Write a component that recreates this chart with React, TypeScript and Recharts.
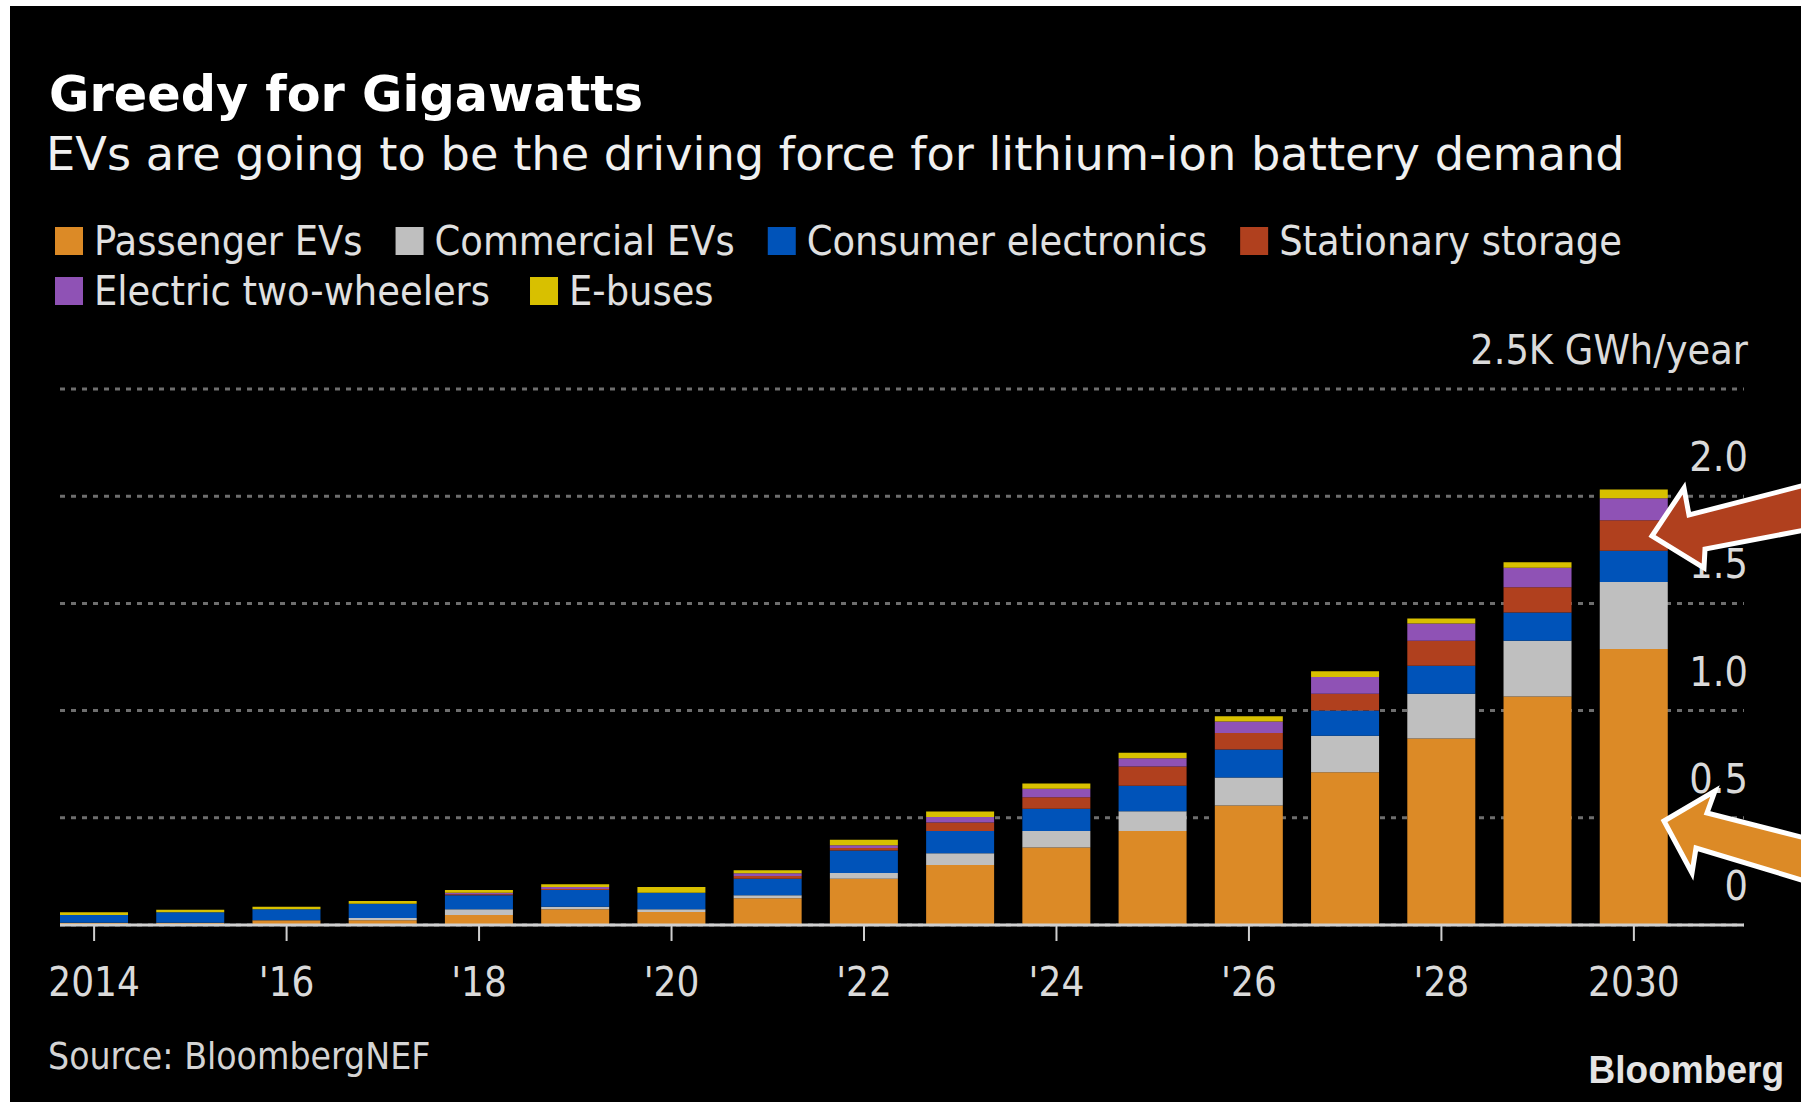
import React from 'react';
import { BarChart, Bar, XAxis, YAxis, CartesianGrid, ReferenceLine } from 'recharts';

// Lithium-ion battery demand, thousand GWh/year (BloombergNEF)
const years = [
  '2014', '2015', '2016', '2017', '2018', '2019', '2020', '2021', '2022',
  '2023', '2024', '2025', '2026', '2027', '2028', '2029', '2030',
];
const passengerEVs = [0.010, 0.010, 0.022, 0.022, 0.047, 0.073, 0.061, 0.125, 0.216, 0.280, 0.361, 0.439, 0.557, 0.713, 0.870, 1.066, 1.287];
const commercialEVs = [0, 0, 0, 0.011, 0.026, 0.012, 0.012, 0.014, 0.027, 0.055, 0.078, 0.092, 0.131, 0.170, 0.209, 0.260, 0.313];
const consumerElectronics = [0.037, 0.049, 0.051, 0.066, 0.066, 0.078, 0.078, 0.077, 0.104, 0.104, 0.103, 0.118, 0.130, 0.118, 0.130, 0.131, 0.145];
const stationaryStorage = [0, 0, 0, 0, 0.004, 0.005, 0, 0.013, 0.012, 0.039, 0.054, 0.090, 0.078, 0.078, 0.117, 0.118, 0.143];
const twoWheelers = [0, 0, 0, 0, 0.008, 0.009, 0, 0.012, 0.013, 0.026, 0.039, 0.039, 0.053, 0.078, 0.080, 0.091, 0.103];
const eBuses = [0.012, 0.012, 0.012, 0.013, 0.012, 0.013, 0.026, 0.014, 0.026, 0.025, 0.025, 0.025, 0.025, 0.026, 0.024, 0.026, 0.040];

const seriesNames = [
  'Passenger EVs',
  'Commercial EVs',
  'Consumer electronics',
  'Stationary storage',
  'Electric two-wheelers',
  'E-buses',
];

const yTicks = [0, 0.5, 1, 1.5, 2, 2.5];
const yTickLabels = ['0', '0.5', '1.0', '1.5', '2.0', '2.5K GWh/year'];
const xTickYears = ['2014', '2016', '2018', '2020', '2022', '2024', '2026', '2028', '2030'];
const xTickLabels = ['2014', "'16", "'18", "'20", "'22", "'24", "'26", "'28", '2030'];

const SERIES = [
  { key: 'passenger', name: seriesNames[0], values: passengerEVs, color: '#dc8a26' },
  { key: 'commercial', name: seriesNames[1], values: commercialEVs, color: '#bfbfbf' },
  { key: 'consumer', name: seriesNames[2], values: consumerElectronics, color: '#0053b9' },
  { key: 'stationary', name: seriesNames[3], values: stationaryStorage, color: '#b0401e' },
  { key: 'twoWheelers', name: seriesNames[4], values: twoWheelers, color: '#8f52b5' },
  { key: 'eBuses', name: seriesNames[5], values: eBuses, color: '#d8c000' },
];

const data = years.map((year, i) => {
  const row: Record<string, string | number> = { year };
  SERIES.forEach((s) => {
    row[s.key] = s.values[i];
  });
  return row;
});

// layout
const W = 1801;
const H = 1102;
const PLOT_TOP = 389;
const PLOT_BOTTOM = 925;
const PLOT_LEFT = 46;
const GRID_LEFT = 60;
const GRID_RIGHT = 1744;
const X_AXIS_H = 60;
const FONT = '"DejaVu Sans", sans-serif';
const CONDENSE = 0.9;

const legendRows = [[0, 1, 2, 3], [4, 5]];

let measureCtx: CanvasRenderingContext2D | null = null;
function textWidth(text: string, size: number) {
  if (!measureCtx) measureCtx = document.createElement('canvas').getContext('2d');
  if (!measureCtx) return text.length * size * 0.55;
  measureCtx.font = `${size}px "DejaVu Sans"`;
  return measureCtx.measureText(text).width * CONDENSE;
}

// condensed text: DejaVu Sans squeezed horizontally
function CText({ x, y, size, fill, anchor = 'start', children }: any) {
  return (
    <text
      transform={`translate(${x} ${y}) scale(${CONDENSE} 1)`}
      fontFamily={FONT}
      fontSize={size}
      fill={fill}
      textAnchor={anchor}
    >
      {children}
    </text>
  );
}

const YTick = ({ x, y, payload }: any) => {
  const label = yTickLabels[yTicks.indexOf(payload.value)];
  return (
    <CText x={x + 4} y={y - 25} size={41} fill="#dadada" anchor="end">
      {label}
    </CText>
  );
};

const XTick = ({ x, y, payload }: any) => {
  const idx = xTickYears.indexOf(payload.value);
  if (idx < 0) return null;
  return (
    <CText x={x} y={y + 55} size={40} fill="#dadada" anchor="middle">
      {xTickLabels[idx]}
    </CText>
  );
};

// solid zero line, starting where the grid starts
const BaseLine = (p: any) => (
  <line
    x1={GRID_LEFT}
    y1={p.y1}
    x2={Math.max(p.x1, p.x2)}
    y2={p.y2}
    stroke="#cfcfcf"
    strokeWidth={3}
  />
);

function Legend() {
  return (
    <g>
      {legendRows.map((row, r) => {
        const baseline = 255 + r * 50;
        let x = 55;
        return row.map((si) => {
          const s = SERIES[si];
          const itemX = x;
          x += 39 + textWidth(s.name, 41) + (r === 0 ? 33 : 40);
          return (
            <g key={s.key}>
              <rect x={itemX} y={baseline - 28} width={28} height={28} fill={s.color} />
              <CText x={itemX + 39} y={baseline} size={41} fill="#e0e0e0">
                {s.name}
              </CText>
            </g>
          );
        });
      })}
    </g>
  );
}

export default function App() {
  return (
    <div style={{ position: 'absolute', top: 0, left: 0, width: W, height: H, background: '#fff', overflow: 'hidden' }}>
      <div style={{ position: 'absolute', left: 10, top: 6, right: 0, bottom: 0, background: '#000' }} />
      <div style={{ position: 'absolute', left: 0, top: 0 }}>
        <BarChart
          width={W}
          height={H}
          data={data}
          margin={{ top: PLOT_TOP, left: PLOT_LEFT, right: 0, bottom: H - PLOT_BOTTOM - X_AXIS_H }}
        >
          <CartesianGrid
            vertical={false}
            x={GRID_LEFT}
            width={GRID_RIGHT - GRID_LEFT}
            stroke="#6e6e6e"
            strokeWidth={3}
            strokeDasharray="5 6"
          />
          <XAxis
            dataKey="year"
            height={X_AXIS_H}
            interval={1}
            padding={{ left: 0, right: 62 }}
            axisLine={false}
            tickSize={16}
            tickMargin={0}
            tickLine={{ stroke: '#cfcfcf', strokeWidth: 2 }}
            tick={<XTick />}
          />
          <YAxis
            orientation="right"
            width={W - GRID_RIGHT}
            domain={[0, 2.5]}
            ticks={yTicks}
            axisLine={false}
            tickLine={false}
            tickSize={0}
            tickMargin={0}
            tick={<YTick />}
          />
          {SERIES.map((s) => (
            <Bar
              key={s.key}
              dataKey={s.key}
              name={s.name}
              stackId="demand"
              fill={s.color}
              barSize={68}
              isAnimationActive={false}
            />
          ))}
          <ReferenceLine y={0} stroke="#cfcfcf" strokeWidth={3} shape={BaseLine} />
        </BarChart>
      </div>
      <svg width={W} height={H} style={{ position: 'absolute', left: 0, top: 0, pointerEvents: 'none' }}>
        <text x={49} y={111} fontFamily={FONT} fontWeight="bold" fontSize={49.3} fill="#ffffff">
          Greedy for Gigawatts
        </text>
        <text x={46} y={170} fontFamily={FONT} fontSize={46.3} fill="#f0f0f0">
          EVs are going to be the driving force for lithium-ion battery demand
        </text>
        <Legend />
        <CText x={48} y={1069} size={37} fill="#d4d4d4">
          Source: BloombergNEF
        </CText>
        <text
          transform="translate(1784 1083) scale(0.95 1)"
          fontFamily='"Liberation Sans", Arial, sans-serif'
          fontWeight="bold"
          fontSize={39}
          fill="#e4e4e4"
          textAnchor="end"
        >
          Bloomberg
        </text>
        {/* annotation arrows */}
        <polygon
          points="1652,536 1684,488 1689,515 1805,485 1805,530 1705,549 1704,568"
          fill="#b0401e"
          stroke="#ffffff"
          strokeWidth={5}
          strokeLinejoin="miter"
        />
        <polygon
          points="1664,821 1715,791 1707,813 1805,838 1805,881 1696,848 1692,873"
          fill="#dc8a26"
          stroke="#ffffff"
          strokeWidth={5}
          strokeLinejoin="miter"
        />
      </svg>
    </div>
  );
}
